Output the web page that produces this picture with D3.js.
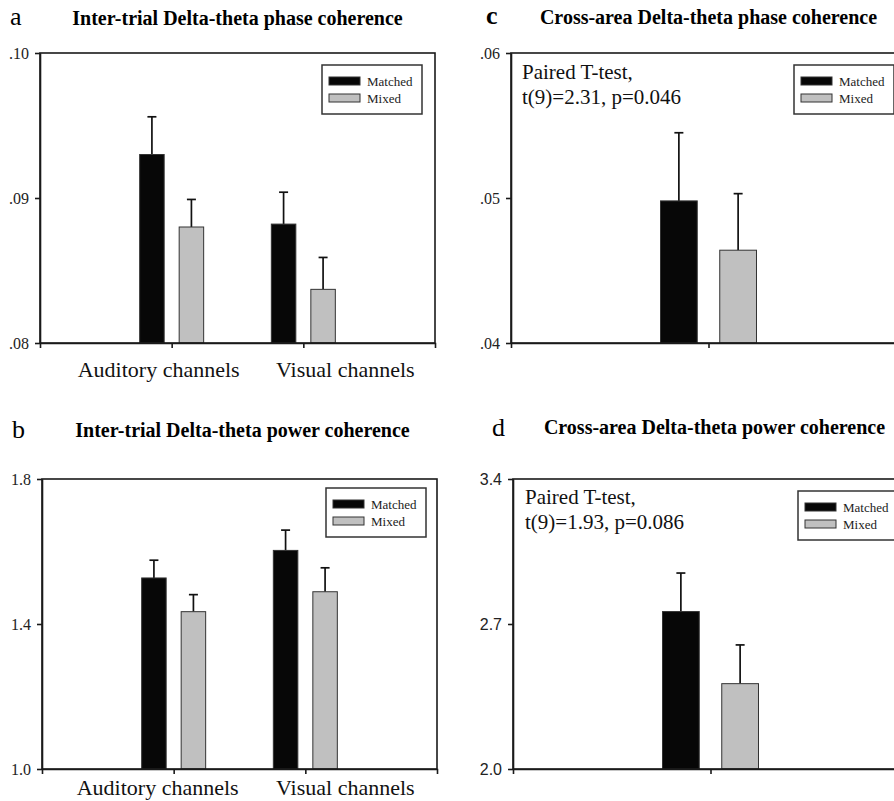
<!DOCTYPE html>
<html>
<head>
<meta charset="utf-8">
<script src="https://cdn.jsdelivr.net/npm/d3@7"></script>
<style>
  body { margin: 0; background: #fff; }
  svg { display: block; }
</style>
</head>
<body>
<div id="chart"></div>
<script>
// series + categories
var seriesNames = ["Matched", "Mixed"];
var interCategories = ["Auditory channels", "Visual channels"];
var crossCategories = ["Cross-area"];

// a: inter-trial phase coherence
var interPhaseMatched = [0.0930, 0.0882];
var interPhaseMatchedErr = [0.0026, 0.0022];
var interPhaseMixed = [0.0880, 0.0837];
var interPhaseMixedErr = [0.0019, 0.0022];
var interPhaseTicks = [0.08, 0.09, 0.10];
var interPhaseTickLabels = [".08", ".09", ".10"];

// b: inter-trial power coherence
var interPowerMatched = [1.527, 1.603];
var interPowerMatchedErr = [0.049, 0.056];
var interPowerMixed = [1.434, 1.489];
var interPowerMixedErr = [0.047, 0.066];
var interPowerTicks = [1.0, 1.4, 1.8];
var interPowerTickLabels = ["1.0", "1.4", "1.8"];

// c: cross-area phase coherence
var crossPhaseMatched = [0.0498];
var crossPhaseMatchedErr = [0.0047];
var crossPhaseMixed = [0.0464];
var crossPhaseMixedErr = [0.0039];
var crossPhaseTicks = [0.04, 0.05, 0.06];
var crossPhaseTickLabels = [".04", ".05", ".06"];

// d: cross-area power coherence
var crossPowerMatched = [2.760];
var crossPowerMatchedErr = [0.186];
var crossPowerMixed = [2.412];
var crossPowerMixedErr = [0.187];
var crossPowerTicks = [2.0, 2.7, 3.4];
var crossPowerTickLabels = ["2.0", "2.7", "3.4"];

var width = 894, height = 801;
var W = 395, H = 290;
var serif = "'Liberation Serif', 'Times New Roman', serif";
var sans = "'Liberation Sans', Arial, sans-serif";
var fills = {Matched: "#070707", Mixed: "#c0c0c0"};

var svg = d3.select("#chart").append("svg")
    .attr("width", width)
    .attr("height", height);

var panels = [
  {letter: "a", title: "Inter-trial Delta-theta phase coherence", left: 40, top: 53,
   letterX: 10, letterY: 25, letterBold: false, titleY: 25, titleDx: 0,
   categories: interCategories, matched: interPhaseMatched, matchedErr: interPhaseMatchedErr,
   mixed: interPhaseMixed, mixedErr: interPhaseMixedErr,
   ticks: interPhaseTicks, tickLabels: interPhaseTickLabels, tickFont: serif,
   labelDx: [-13, 42], labelDy: 34, legendX: 282, legendY: 12, stats: null},
  {letter: "b", title: "Inter-trial Delta-theta power coherence", left: 42, top: 479,
   letterX: 12, letterY: 438, letterBold: false, titleY: 437, titleDx: 3,
   categories: interCategories, matched: interPowerMatched, matchedErr: interPowerMatchedErr,
   mixed: interPowerMixed, mixedErr: interPowerMixedErr,
   ticks: interPowerTicks, tickLabels: interPowerTickLabels, tickFont: serif,
   labelDx: [-16, 40], labelDy: 26, legendX: 284, legendY: 9, stats: null},
  {letter: "c", title: "Cross-area Delta-theta phase coherence", left: 511, top: 53,
   letterX: 486, letterY: 24, letterBold: true, titleY: 24, titleDx: 0,
   categories: crossCategories, matched: crossPhaseMatched, matchedErr: crossPhaseMatchedErr,
   mixed: crossPhaseMixed, mixedErr: crossPhaseMixedErr,
   ticks: crossPhaseTicks, tickLabels: crossPhaseTickLabels, tickFont: serif,
   labelDx: null, labelDy: 0, legendX: 283, legendY: 12,
   stats: ["Paired T-test,", "t(9)=2.31, p=0.046"], statsX: 11, statsY: 26},
  {letter: "d", title: "Cross-area Delta-theta power coherence", left: 513, top: 479,
   letterX: 492, letterY: 436, letterBold: false, titleY: 434, titleDx: 4,
   categories: crossCategories, matched: crossPowerMatched, matchedErr: crossPowerMatchedErr,
   mixed: crossPowerMixed, mixedErr: crossPowerMixedErr,
   ticks: crossPowerTicks, tickLabels: crossPowerTickLabels, tickFont: sans,
   labelDx: null, labelDy: 0, legendX: 285, legendY: 12,
   stats: ["Paired T-test,", "t(9)=1.93, p=0.086"], statsX: 12, statsY: 25}
];

panels.forEach(drawPanel);

function drawPanel(p) {
    // letter + title
    svg.append("text")
        .attr("x", p.letterX).attr("y", p.letterY)
        .attr("font-family", serif).attr("font-size", 26)
        .attr("font-weight", p.letterBold ? "bold" : "normal")
        .text(p.letter);
    svg.append("text")
        .attr("x", p.left + W / 2 + p.titleDx).attr("y", p.titleY)
        .attr("text-anchor", "middle")
        .attr("font-family", serif).attr("font-size", 20).attr("font-weight", "bold")
        .text(p.title);

    var g = svg.append("g").attr("transform", "translate(" + p.left + "," + p.top + ")");

    var y = d3.scaleLinear().domain([p.ticks[0], p.ticks[p.ticks.length - 1]]).range([H, 0]);
    var x = d3.scalePoint().domain(p.categories).range([0, W]).padding(1);
    var half = 0.243 * x.step();
    var xs = d3.scaleBand().domain(seriesNames).range([-half, half]).paddingInner(0.38);

    var rows = [];
    p.categories.forEach(function(c, i) {
        rows.push({cat: c, s: "Matched", v: p.matched[i], e: p.matchedErr[i]});
        rows.push({cat: c, s: "Mixed", v: p.mixed[i], e: p.mixedErr[i]});
    });

    // error bars (upper only)
    var eb = g.selectAll(".err").data(rows).enter().append("g").attr("class", "err")
        .attr("stroke", "#111").attr("stroke-width", 1.7);
    eb.append("line")
        .attr("x1", d => x(d.cat) + xs(d.s) + xs.bandwidth() / 2)
        .attr("x2", d => x(d.cat) + xs(d.s) + xs.bandwidth() / 2)
        .attr("y1", d => y(d.v)).attr("y2", d => y(d.v + d.e));
    eb.append("line")
        .attr("x1", d => x(d.cat) + xs(d.s) + xs.bandwidth() / 2 - 4.5)
        .attr("x2", d => x(d.cat) + xs(d.s) + xs.bandwidth() / 2 + 4.5)
        .attr("y1", d => y(d.v + d.e)).attr("y2", d => y(d.v + d.e));

    // bars
    g.selectAll(".bar").data(rows).enter().append("rect")
        .attr("class", "bar")
        .attr("x", d => x(d.cat) + xs(d.s))
        .attr("y", d => y(d.v))
        .attr("width", xs.bandwidth())
        .attr("height", d => H - y(d.v))
        .attr("fill", d => fills[d.s])
        .attr("stroke", "#333").attr("stroke-width", 1);

    // frame
    g.append("rect").attr("x", 0).attr("y", 0).attr("width", W).attr("height", H)
        .attr("fill", "none").attr("stroke", "#1a1a1a").attr("stroke-width", 1.6);

    // axes
    var yAxis = g.append("g")
        .call(d3.axisLeft(y).tickValues(p.ticks).tickSize(5).tickSizeOuter(0).tickPadding(6)
            .tickFormat((d, i) => p.tickLabels[i]));
    yAxis.selectAll("path, line").attr("stroke", "#1a1a1a").attr("stroke-width", 1.6);
    yAxis.selectAll("text").attr("font-family", p.tickFont).attr("font-size", 16).attr("fill", "#222");

    var xAxis = g.append("g").attr("transform", "translate(0," + H + ")")
        .call(d3.axisBottom(x).tickSize(5).tickSizeOuter(5).tickFormat(""));
    xAxis.selectAll("path, line").attr("stroke", "#1a1a1a").attr("stroke-width", 1.6);

    // category labels
    if (p.labelDx) {
        g.selectAll(".cat").data(p.categories).enter().append("text")
            .attr("class", "cat")
            .attr("x", (d, i) => x(d) + p.labelDx[i])
            .attr("y", H + p.labelDy)
            .attr("text-anchor", "middle")
            .attr("font-family", serif).attr("font-size", 22).attr("fill", "#111")
            .text(d => d);
    }

    // stats note
    if (p.stats) {
        g.selectAll(".stat").data(p.stats).enter().append("text")
            .attr("class", "stat")
            .attr("x", p.statsX)
            .attr("y", (d, i) => p.statsY + i * 25)
            .attr("font-family", serif).attr("font-size", 21).attr("fill", "#111")
            .text(d => d);
    }

    // legend
    var lg = g.append("g").attr("transform", "translate(" + p.legendX + "," + p.legendY + ")");
    lg.append("rect").attr("width", 100).attr("height", 49)
        .attr("fill", "#fff").attr("stroke", "#333").attr("stroke-width", 1.5);
    seriesNames.forEach(function(s, i) {
        lg.append("rect").attr("x", 7).attr("y", 12 + i * 17).attr("width", 31).attr("height", 8)
            .attr("fill", fills[s]).attr("stroke", "#333").attr("stroke-width", 1);
        lg.append("text").attr("x", 45).attr("y", 21 + i * 17)
            .attr("font-family", serif).attr("font-size", 13).attr("fill", "#222")
            .text(s);
    });
}
</script>
</body>
</html>
